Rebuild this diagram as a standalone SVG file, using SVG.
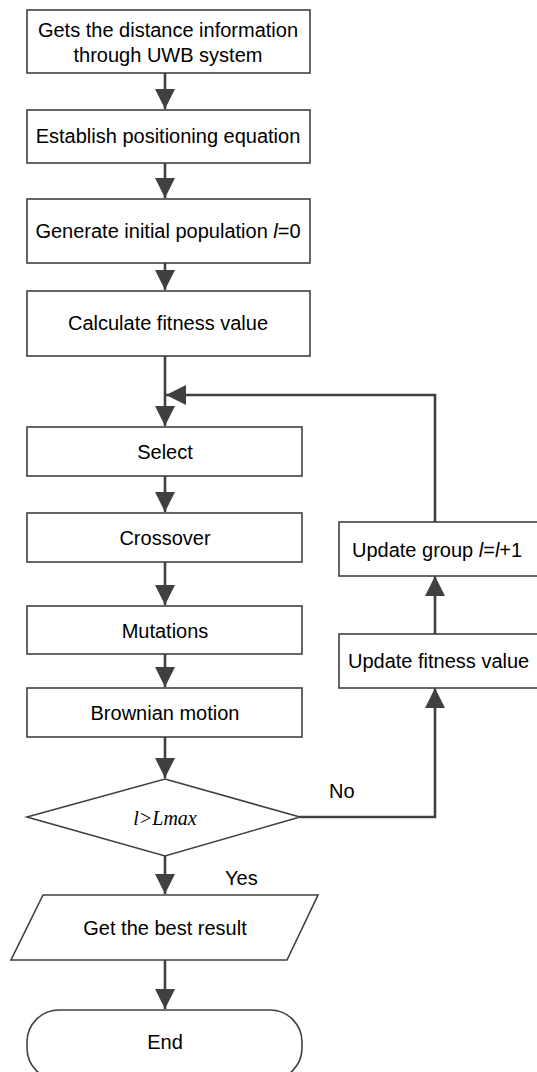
<svg xmlns="http://www.w3.org/2000/svg" width="537" height="1072" viewBox="0 0 537 1072">
<defs>
<style>
.box{fill:#fff;stroke:#404040;stroke-width:1.6}
.t{font-family:"Liberation Sans",Arial,sans-serif;font-size:20px;fill:#000;text-anchor:middle}
.ts{font-family:"Liberation Sans",Arial,sans-serif;font-size:20px;fill:#000}
.c{fill:none;stroke:#404040;stroke-width:2.6}
.m{font-family:"Liberation Serif","Times New Roman",serif;font-style:italic}
</style>
<marker id="ah" viewBox="0 0 20 20" refX="20" refY="10" markerWidth="20" markerHeight="20" markerUnits="userSpaceOnUse" orient="auto">
<path d="M0,0 L20,10 L0,20 Z" fill="#404040"/>
</marker>
</defs>
<rect width="537" height="1072" fill="#fff"/>
<g id="connectors">
<line class="c" x1="165" y1="73" x2="165" y2="109" marker-end="url(#ah)"/>
<line class="c" x1="165" y1="163" x2="165" y2="198" marker-end="url(#ah)"/>
<line class="c" x1="165" y1="263" x2="165" y2="290" marker-end="url(#ah)"/>
<line class="c" x1="165" y1="356" x2="165" y2="426" marker-end="url(#ah)"/>
<polyline class="c" points="435,522 435,395 166,395" marker-end="url(#ah)"/>
<line class="c" x1="165" y1="476" x2="165" y2="512" marker-end="url(#ah)"/>
<line class="c" x1="165" y1="562" x2="165" y2="605" marker-end="url(#ah)"/>
<line class="c" x1="165" y1="654" x2="165" y2="687" marker-end="url(#ah)"/>
<line class="c" x1="165" y1="737" x2="165" y2="778" marker-end="url(#ah)"/>
<line class="c" x1="435" y1="634" x2="435" y2="576" marker-end="url(#ah)"/>
<polyline class="c" points="300,817 435,817 435,688" marker-end="url(#ah)"/>
<line class="c" x1="165" y1="856" x2="165" y2="894" marker-end="url(#ah)"/>
<line class="c" x1="165" y1="960" x2="165" y2="1009" marker-end="url(#ah)"/>
<text class="ts" x="329" y="798">No</text>
<text class="ts" x="225" y="885">Yes</text>
</g>
<g id="n1"><rect class="box" x="27" y="10" width="283" height="63"/><text class="t" x="168" y="37">Gets the distance information</text><text class="t" x="168" y="62">through UWB system</text></g>
<g id="n2"><rect class="box" x="27" y="110" width="283" height="53"/><text class="t" x="168" y="143">Establish positioning equation</text></g>
<g id="n3"><rect class="box" x="27" y="199" width="283" height="64"/><text class="t" x="168" y="238">Generate initial population <tspan font-style="italic">l</tspan>=0</text></g>
<g id="n4"><rect class="box" x="27" y="291" width="283" height="65"/><text class="t" x="168" y="330">Calculate fitness value</text></g>
<g id="n5"><rect class="box" x="27" y="427" width="275" height="49"/><text class="t" x="165" y="459">Select</text></g>
<g id="n6"><rect class="box" x="27" y="513" width="275" height="49"/><text class="t" x="165" y="545">Crossover</text></g>
<g id="n7"><rect class="box" x="27" y="606" width="275" height="48"/><text class="t" x="165" y="638">Mutations</text></g>
<g id="n8"><rect class="box" x="27" y="688" width="275" height="49"/><text class="t" x="165" y="720">Brownian motion</text></g>
<g id="n9"><polygon class="box" points="165,779 300,817 165,856 27,817"/><text class="t m" x="165" y="825" font-size="22">l&gt;Lmax</text></g>
<g id="n10"><polygon class="box" points="43,895 318,895 287,960 11,960"/><text class="t" x="165" y="935">Get the best result</text></g>
<g id="n11"><rect class="box" x="27" y="1010" width="275" height="70" rx="32" ry="32"/><text class="t" x="165" y="1049">End</text></g>
<g id="n12"><rect class="box" x="339" y="522" width="200" height="54"/><text class="ts" x="352" y="557">Update group <tspan font-style="italic">l</tspan>=<tspan font-style="italic">l</tspan>+1</text></g>
<g id="n13"><rect class="box" x="339" y="634" width="205" height="54"/><text class="ts" x="348" y="668">Update fitness value</text></g>
</svg>
